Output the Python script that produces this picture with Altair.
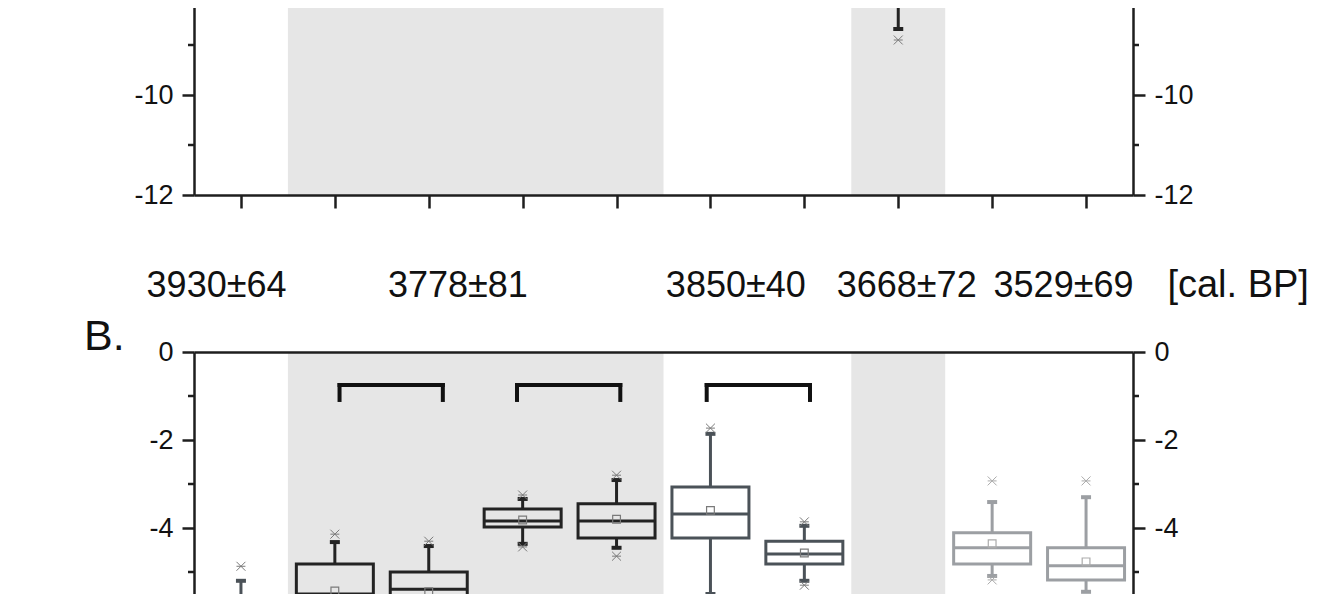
import altair as alt
import pandas as pd

# ---------------- data (panel B) ----------------
positions = [1, 2, 3, 4, 5, 6, 7, 9, 10]
groups = ["slate", "black", "black", "black", "black", "slate", "slate", "light", "light"]
q3 = [-5.75, -4.82, -5.00, -3.57, -3.45, -3.07, -4.30, -4.11, -4.45]
median = [-6.10, -5.50, -5.39, -3.84, -3.84, -3.68, -4.59, -4.45, -4.86]
q1 = [-6.50, -5.95, -5.90, -3.98, -4.23, -4.23, -4.82, -4.82, -5.18]
mean = [-6.05, -5.43, -5.45, -3.82, -3.80, -3.60, -4.57, -4.36, -4.77]
whisk_hi = [-5.20, -4.32, -4.41, -3.34, -2.91, -1.86, -3.95, -3.41, -3.30]
whisk_lo = [-7.10, -6.50, -6.40, -4.36, -4.45, -5.50, -5.20, -5.09, -5.45]
out_hi = [-4.87, -4.14, -4.30, -3.25, -2.80, -1.73, -3.86, -2.93, -2.93]
out_lo = [-7.30, -6.70, -6.60, -4.43, -4.64, -5.70, -5.30, -5.18, -5.70]

# ---------------- data (panel A, only its lower part is visible) ----------------
a_positions = [8]
a_groups = ["black"]
a_box_lo = [-7.40]
a_whisk_lo = [-8.68]
a_out_lo = [-8.90]

# shaded periods (x ranges)
band_start = [1.5, 7.5]
band_end = [5.5, 8.5]

# comparison brackets
bracket_start = [2.05, 3.94, 5.96]
bracket_end = [3.15, 5.04, 7.06]
bracket_top = [-0.75, -0.75, -0.75]
bracket_leg = [-1.09, -1.09, -1.09]

# dates row
date_labels = ["3930±64", "3778±81", "3850±40", "3668±72", "3529±69"]
date_pos = [0.74, 3.31, 6.27, 8.09, 9.76]
unit_label = ["[cal. BP]"]
unit_pos = [11.62]

a_major = [-8, -10, -12]
a_minor = [-9, -11]
b_major = [0, -2, -4, -6, -8]
b_minor = [-1, -3, -5, -7]
x_ticks = [1, 2, 3, 4, 5, 6, 7, 8, 9, 10]

# ---------------- styles ----------------
COL = {"black": "#232323", "slate": "#4b5258", "light": "#9c9fa3"}
SYM = {"black": "#7a7a7a", "slate": "#7a7a7a", "light": "#ababab"}
AX = "#1e1e1e"
FONT = "Liberation Sans"
W = 939
HA = 200
HB = 352
HALF = 0.41
XSHAPE = "M-1,-1L1,1M-1,1L1,-1M-1,0L1,0"

xscale = alt.Scale(domain=[0.5, 10.5], nice=False, zero=False)
ysA = alt.Scale(domain=[-12, -8], nice=False, zero=False)
ysB = alt.Scale(domain=[-8, 0], nice=False, zero=False)


def x_axis(orient, ticks):
    if ticks:
        return alt.Axis(orient=orient, values=x_ticks, labels=False, ticks=True, tickSize=13,
                        tickWidth=2.5, tickColor=AX, domain=True, domainWidth=2.5,
                        domainColor=AX, grid=False, title=None, zindex=2)
    return alt.Axis(orient=orient, labels=False, ticks=False, domain=True, domainWidth=2.5,
                    domainColor=AX, grid=False, title=None, zindex=2)


def y_axis(orient, values):
    return alt.Axis(orient=orient, values=values, tickSize=12, tickWidth=2.5, tickColor=AX,
                    domainWidth=2.5, domainColor=AX, labelFont=FONT, labelFontSize=27,
                    labelColor="#111111", labelPadding=9, grid=False, title=None,
                    labelExpr="'' + datum.value", labelOverlap=False, zindex=2)


def box_frame(pos, grp, cols):
    d = pd.DataFrame({"pos": pos, "grp": grp, **cols})
    d["col"] = d["grp"].map(COL)
    d["sym"] = d["grp"].map(SYM)
    return d


bands = pd.DataFrame({"s": band_start, "e": band_end})


def band_layer(xax, h):
    return alt.Chart(bands).mark_rect(color="#e6e6e6").encode(
        x=alt.X("s:Q", scale=xscale, axis=xax), x2="e:Q",
        y=alt.value(0), y2=alt.value(h))


def minor_layers(values, ys, major):
    d = pd.DataFrame({"v": values})
    left = alt.Chart(d).mark_rule(strokeWidth=2.5, color=AX).encode(
        x=alt.value(-6), x2=alt.value(0), y=alt.Y("v:Q", scale=ys, axis=None))
    right = alt.Chart(d).mark_rule(strokeWidth=2.5, color=AX).encode(
        x=alt.value(W), x2=alt.value(W + 6),
        y=alt.Y("v:Q", scale=ys, axis=y_axis("right", major)))
    return [left, right]


# ---------------- panel B ----------------
dB = box_frame(positions, groups, {"q3": q3, "med": median, "q1": q1, "mean": mean,
                                    "wh": whisk_hi, "wl": whisk_lo, "oh": out_hi, "ol": out_lo})
xaxB = x_axis("top", False)
XB = alt.X("pos:Q", scale=xscale, axis=xaxB)
C = alt.Color("col:N", scale=None)
S = alt.Color("sym:N", scale=None)
baseB = alt.Chart(dB).transform_calculate(xl=f"datum.pos - {HALF}", xr=f"datum.pos + {HALF}")

whisk_up = baseB.mark_rule(strokeWidth=3, clip=True).encode(
    x=XB, y=alt.Y("q3:Q", scale=ysB, axis=y_axis("left", b_major)), y2="wh:Q", color=C)
whisk_dn = baseB.mark_rule(strokeWidth=3, clip=True).encode(
    x=XB, y=alt.Y("q1:Q", scale=ysB, axis=None), y2="wl:Q", color=C)
cap_up = baseB.mark_tick(orient="horizontal", thickness=4, size=10, opacity=1, clip=True).encode(
    x=XB, y=alt.Y("wh:Q", scale=ysB, axis=None), color=C)
cap_dn = baseB.mark_tick(orient="horizontal", thickness=4, size=10, opacity=1, clip=True).encode(
    x=XB, y=alt.Y("wl:Q", scale=ysB, axis=None), color=C)
box = baseB.mark_rect(filled=False, strokeWidth=3, clip=True).encode(
    x=alt.X("xl:Q", scale=xscale, axis=xaxB), x2="xr:Q",
    y=alt.Y("q1:Q", scale=ysB, axis=None), y2="q3:Q", color=C)
med = baseB.mark_rule(strokeWidth=3, clip=True).encode(
    x=alt.X("xl:Q", scale=xscale, axis=xaxB), x2="xr:Q",
    y=alt.Y("med:Q", scale=ysB, axis=None), color=C)
mn = baseB.mark_point(shape="square", size=60, strokeWidth=1.2, filled=False, opacity=1, clip=True).encode(
    x=XB, y=alt.Y("mean:Q", scale=ysB, axis=None), color=S)
o_hi = baseB.mark_point(shape=XSHAPE, size=80, strokeWidth=1, filled=False, opacity=1, clip=True).encode(
    x=XB, y=alt.Y("oh:Q", scale=ysB, axis=None), color=S)
o_lo = baseB.mark_point(shape=XSHAPE, size=80, strokeWidth=1, filled=False, opacity=1, clip=True).encode(
    x=XB, y=alt.Y("ol:Q", scale=ysB, axis=None), color=S)

br = pd.DataFrame({"s": bracket_start, "e": bracket_end, "top": bracket_top, "leg": bracket_leg})
br_h = alt.Chart(br).mark_rule(strokeWidth=4, color="#111111", strokeCap="square").encode(
    x=alt.X("s:Q", scale=xscale, axis=xaxB), x2="e:Q", y=alt.Y("top:Q", scale=ysB, axis=None))
br_v = alt.Chart(br).transform_fold(["s", "e"], as_=["k", "xv"]).mark_rule(
    strokeWidth=4, color="#111111", strokeCap="square").encode(
    x=alt.X("xv:Q", scale=xscale, axis=xaxB), y=alt.Y("top:Q", scale=ysB, axis=None), y2="leg:Q")

dates = pd.DataFrame({"t": date_labels, "p": date_pos})
date_txt = alt.Chart(dates).mark_text(font=FONT, fontSize=36, baseline="alphabetic",
                                      align="center", color="#111111").encode(
    x=alt.X("p:Q", scale=xscale, axis=xaxB), y=alt.value(-55), text="t:N")
units = pd.DataFrame({"t": unit_label, "p": unit_pos})
unit_txt = alt.Chart(units).mark_text(font=FONT, fontSize=38, baseline="alphabetic",
                                      align="center", color="#111111").encode(
    x=alt.X("p:Q", scale=xscale, axis=xaxB), y=alt.value(-55), text="t:N")
panel_lbl = alt.Chart(units).mark_text(
    font=FONT, fontSize=43, baseline="alphabetic", align="left", color="#111111").encode(
    x=alt.value(-110), y=alt.value(-2), text=alt.value("B."))

bottom = alt.layer(
    band_layer(xaxB, HB), whisk_up, whisk_dn, box, med, cap_up, cap_dn, mn, o_hi, o_lo,
    br_h, br_v, *minor_layers(b_minor, ysB, b_major), date_txt, unit_txt, panel_lbl
).resolve_axis(y="independent").properties(width=W, height=HB)

# ---------------- panel A ----------------
dA = box_frame(a_positions, a_groups, {"q1": a_box_lo, "wl": a_whisk_lo, "ol": a_out_lo})
xaxA = x_axis("bottom", True)
XA = alt.X("pos:Q", scale=xscale, axis=xaxA)
baseA = alt.Chart(dA)
a_whisk = baseA.mark_rule(strokeWidth=3, clip=True).encode(
    x=XA, y=alt.Y("q1:Q", scale=ysA, axis=y_axis("left", a_major)), y2="wl:Q", color=C)
a_cap = baseA.mark_tick(orient="horizontal", thickness=4, size=10, opacity=1, clip=True).encode(
    x=XA, y=alt.Y("wl:Q", scale=ysA, axis=None), color=C)
a_out = baseA.mark_point(shape=XSHAPE, size=80, strokeWidth=1, filled=False, opacity=1, clip=True).encode(
    x=XA, y=alt.Y("ol:Q", scale=ysA, axis=None), color=S)

top = alt.layer(
    band_layer(xaxA, HA), a_whisk, a_cap, a_out, *minor_layers(a_minor, ysA, a_major)
).resolve_axis(y="independent").properties(width=W, height=HA)

chart = alt.vconcat(top, bottom, spacing=157, bounds="flush").properties(
    padding={"top": -28, "left": 75, "right": 0, "bottom": 0}
).configure_view(stroke="transparent")

chart.save("out.html", embed_options={"renderer": "svg", "actions": False})
